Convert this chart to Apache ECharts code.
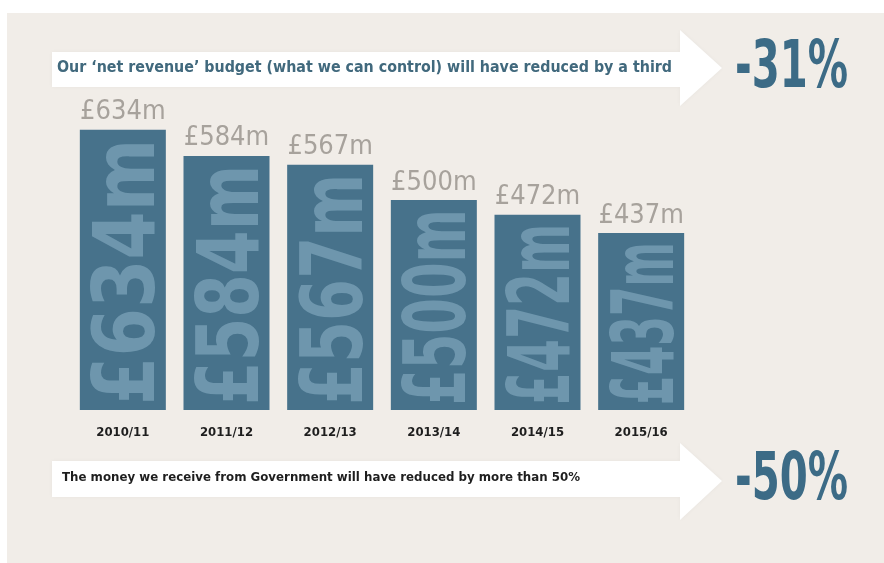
<!DOCTYPE html>
<html>
<head>
<meta charset="utf-8">
<script src="https://cdn.jsdelivr.net/npm/echarts@6/dist/echarts.min.js"></script>
<style>
html,body{margin:0;padding:0;background:#ffffff;}
#chart{width:884px;height:563px;}
</style>
</head>
<body>
<div id="chart"></div>
<script>
// ---- data ----
const categories = ['2010/11', '2011/12', '2012/13', '2013/14', '2014/15', '2015/16'];
const budgetValues = [634, 584, 567, 500, 472, 437];
const topMessage = "Our \u2018net revenue\u2019 budget (what we can control) will have reduced by a third";
const topChange = '-31%';
const bottomMessage = 'The money we receive from Government will have reduced by more than 50%';
const bottomChange = '-50%';
const Y_MIN = 100;
const Y_MAX = 700;

// ---- styling helpers ----
const FAM = '"Liberation Sans Narrow", "DejaVu Sans Condensed", "Open Sans", sans-serif';
const mctx = document.createElement('canvas').getContext('2d');
function measure(str, font) { mctx.font = font; return mctx.measureText(str).width; }
function fitScale(str, font, target) { return target / measure(str, font); }

const BG = '#f1ede8';
const BAR = '#47728b';
const INNER = '#6e96ad';
const PCT = '#3c6b86';

const chart = echarts.init(document.getElementById('chart'));

const innerFont = 'bold 100px ' + FAM;
const topFont = 'bold 15px ' + FAM;
const botFont = 'bold 13px ' + FAM;
const pctFont = 'bold 66px ' + FAM;

const option = {
  backgroundColor: '#ffffff',
  animation: false,
  grid: { left: 71, right: 191, top: 95, bottom: 153 },
  xAxis: {
    type: 'category',
    data: categories,
    axisLine: { show: false },
    axisTick: { show: false },
    axisLabel: { color: '#1e1e1e', fontWeight: 'bold', fontSize: 13, fontFamily: FAM, margin: 16 }
  },
  yAxis: {
    type: 'value', min: Y_MIN, max: Y_MAX, interval: 100,
    show: false, splitLine: { show: false }
  },
  graphic: [
    { type: 'rect', z: -10, shape: { x: 7, y: 13, width: 877, height: 550 }, style: { fill: BG } },
    { type: 'polygon', z: -5, shape: { points: [[52,52],[680,52],[680,30],[722,68],[680,106],[680,87],[52,87]] },
      style: { fill: '#ffffff', shadowBlur: 4, shadowColor: 'rgba(0,0,0,0.04)' } },
    { type: 'polygon', z: -5, shape: { points: [[52,461],[680,461],[680,443],[722,481],[680,520],[680,497],[52,497]] },
      style: { fill: '#ffffff', shadowBlur: 4, shadowColor: 'rgba(0,0,0,0.04)' } },
    { type: 'text', x: 57, y: 68, scaleX: fitScale(topMessage, topFont, 615),
      style: { text: topMessage, font: topFont, fill: '#41697d', verticalAlign: 'middle', align: 'left' } },
    { type: 'text', x: 62, y: 478, scaleX: fitScale(bottomMessage, botFont, 518),
      style: { text: bottomMessage, font: botFont, fill: '#1e1e1e', verticalAlign: 'middle', align: 'left' } },
    { type: 'text', x: 735, y: 70, scaleX: fitScale(topChange, pctFont, 113),
      style: { text: topChange, font: pctFont, fill: PCT, verticalAlign: 'middle', align: 'left' } },
    { type: 'text', x: 735, y: 482, scaleX: fitScale(bottomChange, pctFont, 113),
      style: { text: bottomChange, font: pctFont, fill: PCT, verticalAlign: 'middle', align: 'left' } }
  ],
  series: [
    {
      type: 'bar',
      data: budgetValues,
      barWidth: 86,
      itemStyle: { color: BAR },
      label: {
        show: true, position: 'top', distance: 4,
        formatter: p => '\u00a3' + p.value + 'm',
        color: '#a7a29c', fontSize: 27, fontFamily: FAM
      },
      z: 2
    },
    {
      type: 'custom',
      data: budgetValues.map((v, i) => [i, v]),
      z: 3,
      silent: true,
      renderItem: function (params, api) {
        const idx = api.value(0), v = api.value(1);
        const top = api.coord([idx, v]);
        const bot = api.coord([idx, Y_MIN]);
        const str = '\u00a3' + v + 'm';
        const len = (bot[1] - top[1]) - 14;
        const sx = len / measure(str, innerFont);
        return {
          type: 'text',
          x: top[0] + 9,
          y: bot[1] - 5,
          rotation: Math.PI / 2,
          scaleX: sx,
          scaleY: 0.86,
          style: { text: str, font: innerFont, fill: INNER, align: 'left', verticalAlign: 'middle' }
        };
      }
    }
  ]
};
chart.setOption(option);
</script>
</body>
</html>
